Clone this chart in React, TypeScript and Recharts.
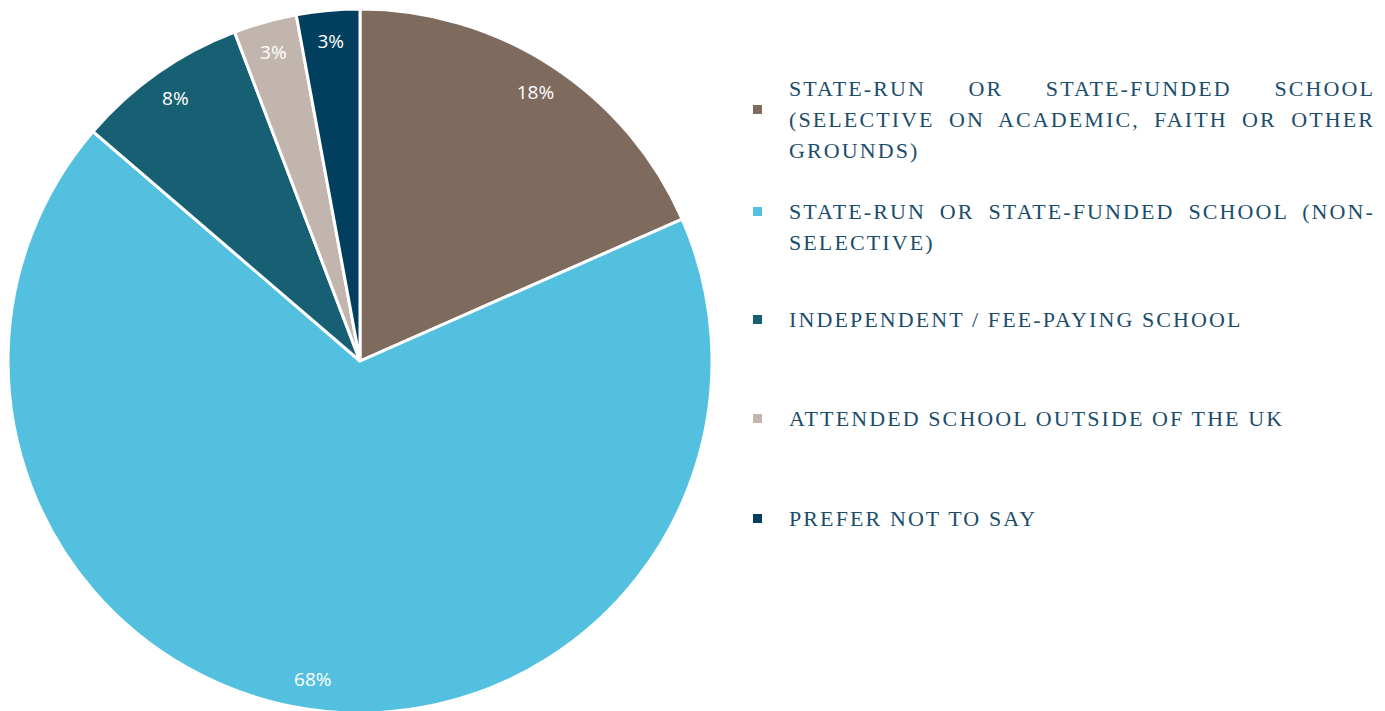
import * as React from "react";
import { PieChart, Pie, Cell, Legend } from "recharts";

const categories = [
  "State-run or state-funded school (selective on academic, faith or other grounds)",
  "State-run or state-funded school (non-selective)",
  "Independent / fee-paying school",
  "Attended school outside of the UK",
  "Prefer not to say",
];
const shares = [18.4, 67.9, 7.9, 2.9, 2.9];
const colors = ["#7F6A5E", "#53C0E0", "#176073", "#C2B5AE", "#023E5E"];

// first-line centre of each legend entry, in px from chart top
const legendRows = [88, 211, 319, 418, 518];

const data = categories.map((name, i) => ({ name, value: shares[i] }));

const RAD = Math.PI / 180;

function renderLabel(props: any) {
  const { cx, cy, midAngle, outerRadius, value } = props;
  const r = outerRadius * 0.912;
  const x = cx + r * Math.cos(-midAngle * RAD);
  const y = cy + r * Math.sin(-midAngle * RAD);
  return (
    <text
      x={x}
      y={y}
      fill="#fff"
      textAnchor="middle"
      dominantBaseline="central"
      fontFamily="'Open Sans', sans-serif"
      fontSize={19}
    >
      {`${Math.round(value)}%`}
    </text>
  );
}

function LegendBox() {
  return (
    <div style={{ position: "relative", width: 640, height: 600 }}>
      {data.map((d, i) => (
        <div
          key={d.name}
          style={{
            position: "absolute",
            left: 0,
            top: legendRows[i] - 70 - 15.5,
            width: 630,
            display: "flex",
          }}
        >
          <div
            style={{
              width: 9,
              height: 9,
              background: colors[i],
              marginLeft: 8,
              marginTop: i === 0 ? 32 : 11,
              flex: "none",
            }}
          />
          <div
            style={{
              marginLeft: 27,
              width: 586,
              textAlign: "justify",
              textTransform: "uppercase",
              fontFamily: "'Liberation Serif', serif",
              fontSize: 22,
              letterSpacing: 2.1,
              lineHeight: "31px",
              color: "#1B4D6C",
            }}
          >
            {d.name}
          </div>
        </div>
      ))}
    </div>
  );
}

export default function App() {
  return (
    <div style={{ position: "absolute", left: 0, top: 0, width: 1385, height: 711, background: "#fff" }}>
      <PieChart width={1385} height={711} margin={{ top: 0, right: 0, bottom: 0, left: 0 }}>
        <Pie
          data={data}
          dataKey="value"
          nameKey="name"
          cx={360}
          cy={361}
          outerRadius={352}
          startAngle={90}
          endAngle={-270}
          stroke="#fff"
          strokeWidth={3}
          label={renderLabel}
          labelLine={false}
          isAnimationActive={false}
        >
          {data.map((d, i) => (
            <Cell key={d.name} fill={colors[i]} />
          ))}
        </Pie>
        <Legend
          content={() => <LegendBox />}
          wrapperStyle={{ position: "absolute", left: 745, top: 70, width: 640 }}
        />
      </PieChart>
    </div>
  );
}
